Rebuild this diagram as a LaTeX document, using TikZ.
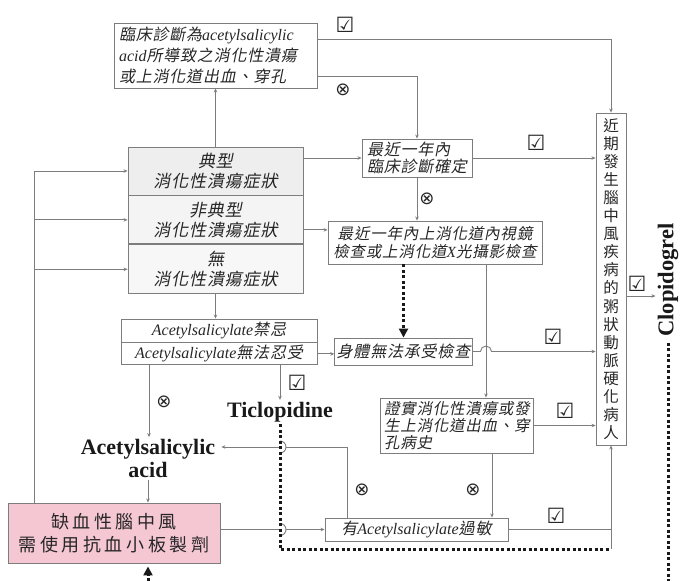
\documentclass[tikz,border=0pt]{standalone}
\usepackage{fontspec}
\setmainfont{Liberation Serif}
\newfontfamily\zhit[FakeSlant=0.2,LetterSpace=5]{Noto Sans CJK TC}
\newfontfamily\zhup{Noto Sans CJK TC}
\newfontfamily\zhwide[LetterSpace=20]{Noto Sans CJK TC}
\newfontfamily\symb{DejaVu Sans}
\usetikzlibrary{positioning,arrows.meta}
\newcommand\en[1]{{\rmfamily\itshape #1}}
\definecolor{linegray}{RGB}{125,125,125}
\definecolor{pinkfill}{RGB}{244,199,211}

\begin{document}
\begin{tikzpicture}[x=1pt, y=-1pt,
    flowbox/.style={
        draw=linegray,
        line width=0.9pt,
        inner sep=2pt,
        align=center,
        text=black!85,
        font=\zhit\fontsize{16}{19}\selectfont
    },
    leftbox/.style={flowbox, align=left, inner xsep=5pt},
    arrow/.style={draw=linegray, line width=0.9pt, -{Stealth[length=4pt,width=3.5pt]}},
    plain/.style={draw=linegray, line width=0.9pt},
    dotline/.style={draw=black!90, line width=3pt, dash pattern=on 3pt off 2.5pt},
    dotarrow/.style={dotline, -{Triangle[length=9pt,width=9pt]}},
    drug/.style={font=\rmfamily\bfseries\fontsize{22}{23}\selectfont, align=center, inner sep=2pt, inner xsep=6pt, text=black!90},
    chk/.style={font=\symb\fontsize{21}{21}\selectfont, inner sep=0pt, text=black!85},
    crs/.style={font=\symb\fontsize{18}{18}\selectfont, inner sep=0pt, text=black!85}
]
\useasboundingbox (0,0) rectangle (683,581);

% boxes
\node[leftbox, text width=193pt, minimum height=65pt, font=\zhit\fontsize{16}{21}\selectfont] (diag) at (215.5,55.5)
    {臨床診斷為\en{acetylsalicylic}\\\en{acid}所導致之消化性潰瘍\\或上消化道出血、穿孔};

\node[flowbox, fill=gray!13, minimum width=175pt, minimum height=48pt, font=\zhit\fontsize{17}{20}\selectfont] (typ) at (215.5,171)
    {典型\\消化性潰瘍症狀};
\node[flowbox, fill=gray!9, minimum width=175pt, minimum height=48pt, font=\zhit\fontsize{17}{20}\selectfont, below=0pt of typ] (atyp)
    {非典型\\消化性潰瘍症狀};
\node[flowbox, fill=gray!6, minimum width=175pt, minimum height=49pt, font=\zhit\fontsize{17}{20}\selectfont, below=0pt of atyp] (nosym)
    {無\\消化性潰瘍症狀};

\node[leftbox, text width=100pt, minimum height=38pt, font=\zhit\fontsize{16}{17.5}\selectfont] (recent) at (417,158)
    {最近一年內\\臨床診斷確定};
\node[flowbox, minimum width=214pt, minimum height=43pt, font=\zhit\fontsize{15.5}{18.5}\selectfont] (exam) at (435,242.5)
    {最近一年內上消化道內視鏡\\檢查或上消化道\en{X}光攝影檢查};
\node[flowbox, minimum width=137pt, minimum height=27pt] (unfit) at (403.5,351.5) {身體無法承受檢查};

\node[flowbox, minimum width=196pt, minimum height=23pt] (contra) at (219,330.5) {\en{Acetylsalicylate}禁忌};
\node[flowbox, minimum width=196pt, minimum height=22pt, below=0pt of contra] (intol) {\en{Acetylsalicylate}無法忍受};

\node[leftbox, text width=145pt, inner xsep=4pt, minimum height=55pt, font=\zhit\fontsize{15.5}{17}\selectfont] (hist) at (456.5,425.5)
    {證實消化性潰瘍或發\\生上消化道出血、穿\\孔病史};
\node[flowbox, minimum width=183pt, minimum height=23pt] (allergy) at (416.5,529.5) {有\en{Acetylsalicylate}過敏};

\node[flowbox, fill=pinkfill, minimum width=212pt, minimum height=60pt, font=\zhwide\fontsize{18}{22.5}\selectfont] (stroke) at (114,533)
    {缺血性腦中風\\需使用抗血小板製劑};

\node[flowbox, minimum width=30pt, minimum height=332pt, inner sep=0pt, font=\zhup\fontsize{15.5}{18.06}\selectfont] (athero) at (611,279)
    {近\\期\\發\\生\\腦\\中\\風\\疾\\病\\的\\粥\\狀\\動\\脈\\硬\\化\\病\\人};

% drugs
\node[drug] (asa) at (148,458.5) {Acetylsalicylic\\acid};
\node[drug] (tic) at (280,412) {Ticlopidine};
\node[drug, rotate=90, font=\rmfamily\bfseries\fontsize{22.5}{24}\selectfont] (clop) at (668,280) {Clopidogrel};

% yes / no marks
\node[chk] (ok1) at (345,25) {☑};
\node[chk] (ok2) at (536,143) {☑};
\node[chk] (ok3) at (553,337) {☑};
\node[chk] (ok4) at (297,383) {☑};
\node[chk] (ok5) at (565,411) {☑};
\node[chk] (ok6) at (556,516) {☑};
\node[chk] (ok7) at (637,284) {☑};
\node[crs] (no1) at (343,90) {⊗};
\node[crs] (no2) at (427,199) {⊗};
\node[crs] (no3) at (164,402) {⊗};
\node[crs] (no4) at (362,490) {⊗};
\node[crs] (no5) at (473,490) {⊗};

% connectors
\coordinate (trunk) at ([xshift=27pt]stroke.north west);
\draw[arrow] (trunk) |- (typ.west);
\draw[arrow] (trunk |- atyp.west) -- (atyp.west);
\draw[arrow] (trunk |- nosym.west) -- (nosym.west);
\draw[arrow] (typ.north) -- (diag.south);

\coordinate (d1) at ([yshift=16.5pt]diag.east);
\coordinate (d2) at ([yshift=-20.5pt]diag.east);
\draw[arrow] (d1) -| (athero.north);
\draw[arrow] (d2) -| (recent.north);
\draw[arrow] (typ.east |- recent.west) -- (recent.west);
\coordinate (a1) at ([yshift=-10pt]atyp.east);
\draw[arrow] (a1) -- (a1 -| exam.west);
\draw[arrow] (recent.east) -- (recent.east -| athero.west);
\draw[arrow] (recent.south) -- (recent.south |- exam.north);

\draw[dotarrow] (unfit.north |- exam.south) -- (unfit.north);
\coordinate (e1) at ([xshift=51pt]exam.south);
\draw[arrow] (e1) -- (e1 |- hist.north);
\coordinate (hop1) at (e1 |- unfit.east);
\draw[arrow] (unfit.east) -- ([xshift=-5.5pt]hop1) arc[start angle=180, end angle=0, radius=5.5pt] -- (unfit.east -| athero.west);

\draw[arrow] (nosym.south) -- (nosym.south |- contra.north);
\draw[arrow] (intol.east) -- (intol.east -| unfit.west);
\coordinate (i1) at ([xshift=-70pt]intol.south);
\draw[arrow] (i1) -- (i1 |- asa.north);
\draw[arrow] (tic.north |- intol.south) -- (tic.north);
\draw[arrow] (asa.south) -- (asa.south |- stroke.north);

\draw[arrow] (hist.east) -- (hist.east -| athero.west);
\coordinate (h1) at ([xshift=35.5pt]hist.south);
\draw[arrow] (h1) -- (h1 |- allergy.north);

% jumps over the dotted line
\coordinate (asaIn) at ([yshift=11.5pt]asa.east);
\coordinate (hopL) at (asaIn -| tic.south);
\coordinate (g1) at ([xshift=23pt]allergy.north west);
\draw[plain] (g1) |- ([xshift=6pt]hopL);
\draw[plain] ([yshift=6pt]hopL) arc[start angle=90, end angle=-90, radius=6pt];
\draw[arrow] (hopL) -- (asaIn);

\coordinate (hopM) at (tic.south |- allergy.west);
\draw[plain] (stroke.east |- hopM) -- (hopM);
\draw[plain] ([yshift=6pt]hopM) arc[start angle=90, end angle=-90, radius=6pt];
\draw[arrow] ([xshift=6pt]hopM) -- (allergy.west);

\coordinate (jn) at ([yshift=-104pt]athero.south);
\draw[dotline] (tic.south) |- (jn);
\draw[plain] (allergy.east) -- (allergy.east -| athero.south);
\draw[arrow] (jn) -- (athero.south);

\coordinate (c1) at ([yshift=-17pt]athero.east);
\draw[arrow] (c1) -- (c1 -| clop.north);
\coordinate (botR) at (668,581);
\draw[dotline] (clop.west) -- (botR);
\coordinate (botL) at (148,581);
\draw[dotarrow, shorten >=3pt] (botL) -- (botL |- stroke.south);

\end{tikzpicture}
\end{document}
